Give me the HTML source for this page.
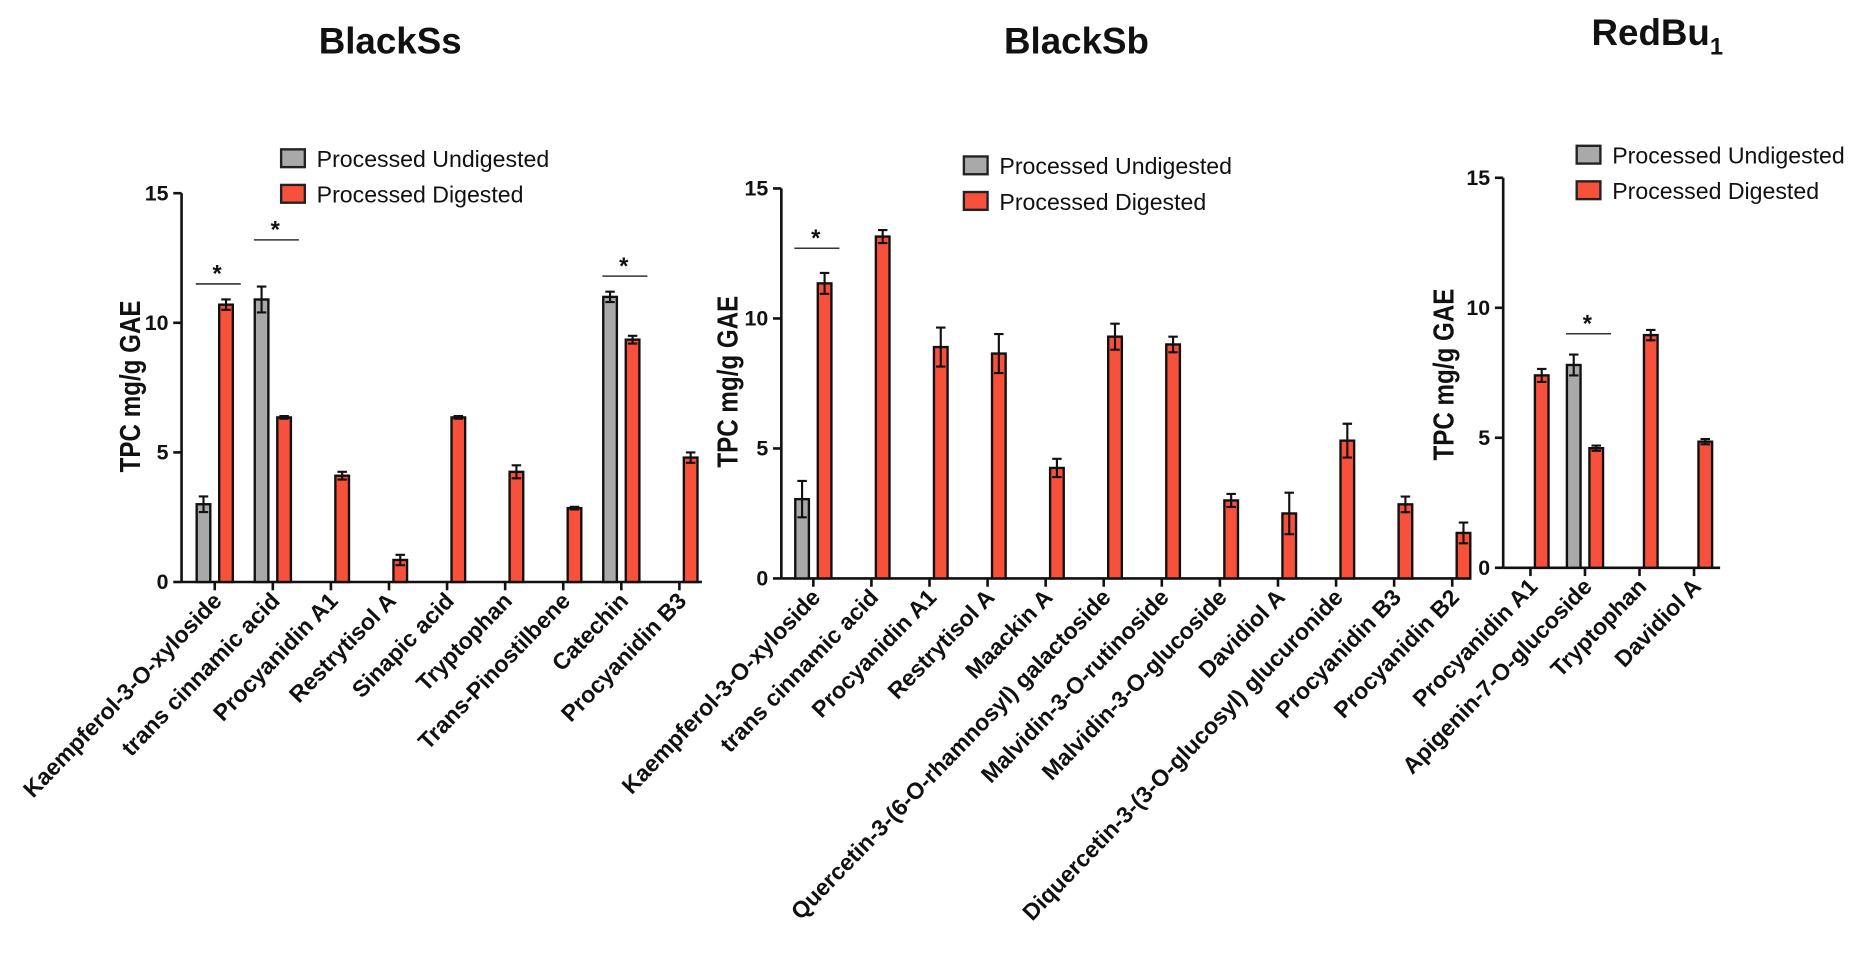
<!DOCTYPE html>
<html><head><meta charset="utf-8"><style>
html,body{margin:0;padding:0;background:#fff}
svg{display:block}
text{font-family:"Liberation Sans",sans-serif;fill:#111}
</style></head><body>
<svg id="fig" width="1859" height="953" viewBox="0 0 1568 804" xmlns="http://www.w3.org/2000/svg"></svg>
<script>
// ---- Chart 1: BlackSs ----
const c1Categories = ["Kaempferol-3-O-xyloside","trans cinnamic acid","Procyanidin A1","Restrytisol A","Sinapic acid","Tryptophan","Trans-Pinostilbene","Catechin","Procyanidin B3"];
const c1Undigested = [3.0,10.9,null,null,null,null,null,11.0,null];
const c1UndigErr = [0.3,0.5,0,0,0,0,0,0.2,0];
const c1Digested = [10.7,6.35,4.1,0.85,6.35,4.25,2.85,9.35,4.8];
const c1DigErr = [0.2,0.05,0.15,0.2,0.05,0.25,0.05,0.15,0.2];
const c1Sig = [0,1,7];
const c1SigLevel = [11.5,13.2,11.8];
// ---- Chart 2: BlackSb ----
const c2Categories = ["Kaempferol-3-O-xyloside","trans cinnamic acid","Procyanidin A1","Restrytisol A","Maackin A","Quercetin-3-(6-O-rhamnosyl) galactoside","Malvidin-3-O-rutinoside","Malvidin-3-O-glucoside","Davidiol A","Diquercetin-3-(3-O-glucosyl) glucuronide","Procyanidin B3","Procyanidin B2"];
const c2Undigested = [3.05,null,null,null,null,null,null,null,null,null,null,null];
const c2UndigErr = [0.7,0,0,0,0,0,0,0,0,0,0,0];
const c2Digested = [11.35,13.15,8.9,8.65,4.25,9.3,9.0,3.0,2.5,5.3,2.85,1.75];
const c2DigErr = [0.4,0.25,0.75,0.75,0.35,0.5,0.3,0.25,0.8,0.65,0.3,0.4];
const c2Sig = [0];
const c2SigLevel = [12.7];
// ---- Chart 3: RedBu1 ----
const c3Categories = ["Procyanidin A1","Apigenin-7-O-glucoside","Tryptophan","Davidiol A"];
const c3Undigested = [null,7.8,null,null];
const c3UndigErr = [0,0.4,0,0];
const c3Digested = [7.4,4.6,8.95,4.85];
const c3DigErr = [0.25,0.1,0.2,0.1];
const c3Sig = [1];
const c3SigLevel = [9.0];
const yTicks = [0,5,10,15];
const seriesNames = ["Processed Undigested","Processed Digested"];

const NS="http://www.w3.org/2000/svg";
const svg=document.getElementById('fig');
function mk(tag,attrs,parent,txt){const e=document.createElementNS(NS,tag);for(const k in attrs)e.setAttribute(k,attrs[k]);if(txt!==undefined)e.textContent=txt;(parent||svg).appendChild(e);return e;}
const GRAY="#a9a9a9",RED="#f7513c";

function chart(key,title,sub,L,cats,und,uerr,dig,derr,sig,sigLvl){
  const g=mk('g',{});
  
  
  const y=v=>L.y0-(v/15)*(L.y0-L.y15);
  const x=i=>L.first+i*L.step;
  const t=mk('text',{x:L.tx,y:L.ty,'text-anchor':'middle','font-size':31,'font-weight':'bold'},g,title);
  
  
  if(sub){mk('tspan',{'font-size':20,dy:8},t,sub);}
  const ya=mk('line',{x1:L.ax,y1:L.y0,x2:L.ax,y2:L.y15,stroke:'#111','stroke-width':2.2},g);
  
  
  yTicks.forEach(v=>{
    mk('line',{x1:L.ax-7,x2:L.ax,y1:y(v),y2:y(v),stroke:'#111','stroke-width':2.2},g);
    const tl=mk('text',{x:L.ax-11,y:y(v)+6,'text-anchor':'end','font-size':18,'font-weight':'bold'},g,String(v));
    
    
  });
  const yl=mk('text',{x:0,y:0,'text-anchor':'middle','font-size':24,'font-weight':'bold',transform:`translate(${L.ylx},${L.yly}) rotate(-90) scale(0.85,1)`},g,'TPC mg/g GAE');
  
  
  const xa=mk('line',{x1:L.ax,y1:L.y0,x2:L.xend,y2:L.y0,stroke:'#111','stroke-width':2.2},g);
  
  
  cats.forEach((c,i)=>{
    mk('line',{x1:x(i),x2:x(i),y1:L.y0,y2:L.y0+7,stroke:'#111','stroke-width':2.2},g);
    const tl=mk('text',{x:0,y:0,'text-anchor':'end','font-size':19.5,'font-weight':'bold',transform:`translate(${x(i)+7},${L.y0+17}) rotate(-46)`},g,c);
    
    
  });
  function bar(i,v,e,off,fill,nm){
    if(v===null)return;
    const cx=x(i)+off,w=11.5;
    const r=mk('rect',{x:cx-w/2,y:y(v),width:w,height:L.y0-y(v),fill:fill,stroke:'#111','stroke-width':2},g);
    
    
    if(e>0){
      const eb=mk('path',{d:`M${cx},${y(v-e)}V${y(v+e)}M${cx-4},${y(v+e)}H${cx+4}M${cx-4},${y(v-e)}H${cx+4}`,stroke:'#111','stroke-width':1.8,fill:'none'},g);
      
      
    }
  }
  cats.forEach((c,i)=>{bar(i,und[i],uerr[i],-9.5,GRAY,'undigested');bar(i,dig[i],derr[i],9.5,RED,'digested');});
  sig.forEach((i,k)=>{
    const yy=y(sigLvl[k]);
    const sl=mk('line',{x1:x(i)-16,x2:x(i)+22,y1:yy,y2:yy,stroke:'#333','stroke-width':1.3},g);
    
    
    const st=mk('text',{x:x(i)+2,y:yy-2,'text-anchor':'middle','font-size':20,'font-weight':'bold'},g,'*');
    
    
  });
  [GRAY,RED].forEach((f,k)=>{
    const ly=L.lgy+k*30;
    const lb=mk('rect',{x:L.lgx,y:ly-8,width:20,height:15,fill:f,stroke:'#222','stroke-width':2},g);
    
    
    const lt=mk('text',{x:L.lgx+30,y:ly+7,'font-size':19.5},g,seriesNames[k]);
    
    
  });
}
chart('blackss','BlackSs','',{ax:153,y0:491,y15:163,first:181,step:49,xend:592,tx:329,ty:45,ylx:118,yly:326,lgx:237,lgy:134},c1Categories,c1Undigested,c1UndigErr,c1Digested,c1DigErr,c1Sig,c1SigLevel);
chart('blacksb','BlackSb','',{ax:659,y0:488,y15:159,first:686,step:49,xend:1241,tx:908,ty:45,ylx:622,yly:322,lgx:813,lgy:140},c2Categories,c2Undigested,c2UndigErr,c2Digested,c2DigErr,c2Sig,c2SigLevel);
chart('redbu1','RedBu','1',{ax:1268,y0:479,y15:150,first:1291,step:46,xend:1451,tx:1398,ty:38,ylx:1226,yly:316,lgx:1330,lgy:131},c3Categories,c3Undigested,c3UndigErr,c3Digested,c3DigErr,c3Sig,c3SigLevel);
</script>
</body></html>
